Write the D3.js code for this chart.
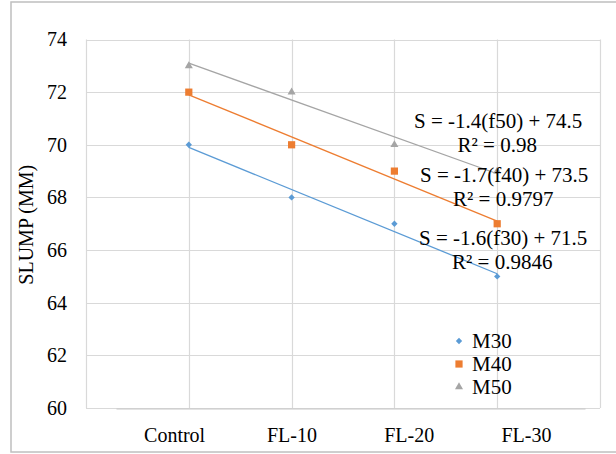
<!DOCTYPE html>
<html>
<head>
<meta charset="utf-8">
<script src="https://cdn.jsdelivr.net/npm/d3@7"></script>
<style>
  html, body { margin: 0; padding: 0; background: #fff; }
  svg { display: block; }
  text { font-family: "Liberation Serif", "Times New Roman", serif; fill: #000; }
</style>
</head>
<body>
<svg id="chart" width="616" height="454"></svg>
<script>
// ---- data ----
const categories = ["Control", "FL-10", "FL-20", "FL-30"];
const xPositions = [1, 2, 3, 4];
const m30 = [70, 68, 67, 65];
const m40 = [72, 70, 69, 67];
const m50 = [73, 72, 70, 69];
const seriesNames = ["M30", "M40", "M50"];
const seriesColors = ["#5B9BD5", "#ED7D31", "#A5A5A5"];
const yTicks = [60, 62, 64, 66, 68, 70, 72, 74];
const xGrid = [0, 1, 2, 3, 4, 5];
const eqLabels = ["S = -1.6(f30) + 71.5", "S = -1.7(f40) + 73.5", "S = -1.4(f50) + 74.5"];
const r2Labels = ["R² = 0.9846", "R² = 0.9797", "R² = 0.98"];
const yTitle = "SLUMP (MM)";

const seriesData = [m30, m40, m50];
const FONT = '"Liberation Serif", "Times New Roman", serif';

const svg = d3.select("#chart");
const W = 616;

// outer border
svg.append("rect").attr("x", 11).attr("y", 2).attr("width", W).attr("height", 450)
  .attr("fill", "#fff").attr("stroke", "#bfbfbf").attr("stroke-width", 1.5);

const x = d3.scaleLinear().domain([0, 5]).range([86, 600]);
const y = d3.scaleLinear().domain([60, 74]).range([408, 39.5]);
const band = d3.scaleBand().domain(categories).range([116, 585]);

// gridlines
svg.append("g").selectAll("line").data(yTicks).join("line")
  .attr("x1", x(0)).attr("x2", x(5))
  .attr("y1", d => Math.round(y(d)) + 0.5).attr("y2", d => Math.round(y(d)) + 0.5)
  .attr("stroke", "#d9d9d9").attr("stroke-width", 1.2);
svg.append("g").selectAll("line").data(xGrid).join("line")
  .attr("x1", d => Math.round(x(d)) + 0.5).attr("x2", d => Math.round(x(d)) + 0.5)
  .attr("y1", y(74)).attr("y2", y(60))
  .attr("stroke", "#d9d9d9").attr("stroke-width", 1.2);

// y axis labels
const yAxis = svg.append("g").attr("transform", `translate(${x(0)},0)`)
  .call(d3.axisLeft(y).tickValues(yTicks).tickSize(0).tickPadding(19));
yAxis.select(".domain").remove();
yAxis.selectAll("text").style("font-size", "20px").attr("fill", "#000").style("font-family", FONT);

// x axis (category labels)
const xAxis = svg.append("g").attr("transform", `translate(0,${Math.round(y(60)) + 0.5})`)
  .call(d3.axisBottom(band).tickSize(0).tickPadding(19));
xAxis.select(".domain").attr("stroke", "#c8c8c8").attr("stroke-width", 1.2);
xAxis.selectAll("text").style("font-size", "20px").attr("fill", "#000").style("font-family", FONT);

// y title
svg.append("text")
  .attr("transform", `translate(33,${(y(60) + y(74)) / 2 + 1}) rotate(-90)`)
  .attr("text-anchor", "middle")
  .style("font-size", "20px").style("font-family", FONT)
  .text(yTitle);

// symbols (square diamond like the spreadsheet marker)
const squareDiamond = {
  draw(ctx, size) {
    const r = Math.sqrt(size / 2);
    ctx.moveTo(0, -r); ctx.lineTo(r, 0); ctx.lineTo(0, r); ctx.lineTo(-r, 0); ctx.closePath();
  }
};
const symbolTypes = [squareDiamond, d3.symbolSquare, d3.symbolTriangle];
const symbolSizes = [20, 52, 28];

// trendlines (least squares over the plotted points)
function fit(xs, ys) {
  const n = xs.length;
  const mx = d3.mean(xs), my = d3.mean(ys);
  let sxy = 0, sxx = 0;
  for (let i = 0; i < n; i++) { sxy += (xs[i] - mx) * (ys[i] - my); sxx += (xs[i] - mx) ** 2; }
  const b = sxy / sxx;
  return { b, a: my - b * mx };
}

seriesData.forEach((vals, si) => {
  const f = fit(xPositions, vals);
  const x0 = d3.min(xPositions), x1 = d3.max(xPositions);
  svg.append("line")
    .attr("x1", x(x0)).attr("y1", y(f.a + f.b * x0))
    .attr("x2", x(x1)).attr("y2", y(f.a + f.b * x1))
    .attr("stroke", seriesColors[si]).attr("stroke-width", 1.3);
});

seriesData.forEach((vals, si) => {
  svg.append("g").selectAll("path").data(vals).join("path")
    .attr("transform", (d, i) => `translate(${x(xPositions[i])},${y(d)})`)
    .attr("d", d3.symbol().type(symbolTypes[si]).size(symbolSizes[si]))
    .attr("fill", seriesColors[si]);
});

// equation labels (order M30, M40, M50)
const eqPos = [
  { cx: x(4) + 6, b1: 245, b2: 269 },
  { cx: x(4) + 7, b1: 181.5, b2: 205.5 },
  { cx: x(4) + 1, b1: 128, b2: 152 }
];
eqLabels.forEach((t, i) => {
  svg.append("text").attr("x", eqPos[i].cx).attr("y", eqPos[i].b1)
    .attr("text-anchor", "middle").style("font-size", "21px").style("font-family", FONT).text(t);
  svg.append("text").attr("x", eqPos[i].cx - 1).attr("y", eqPos[i].b2)
    .attr("text-anchor", "middle").style("font-size", "21px").style("font-family", FONT).text(r2Labels[i]);
});

// legend
const legend = svg.append("g").attr("transform", "translate(459,341)");
seriesNames.forEach((name, i) => {
  const g = legend.append("g").attr("transform", `translate(0,${i * 23})`);
  g.append("path").attr("d", d3.symbol().type(symbolTypes[i]).size(symbolSizes[i]))
    .attr("fill", seriesColors[i]);
  g.append("text").attr("x", 13).attr("y", 7).style("font-size", "21px").style("font-family", FONT).text(name);
});
</script>
</body>
</html>
